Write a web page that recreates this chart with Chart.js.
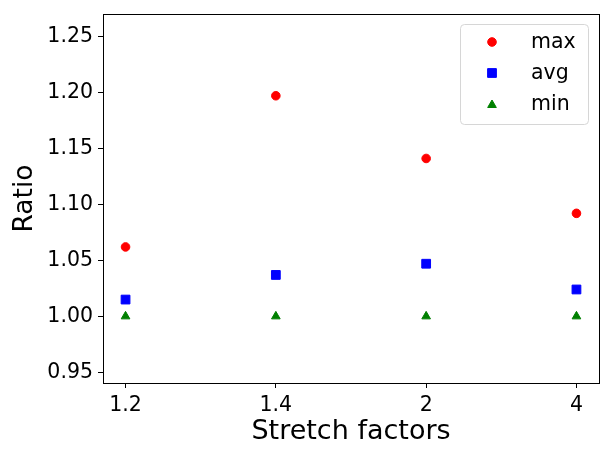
<!DOCTYPE html>
<html>
<head>
<script src="https://cdn.jsdelivr.net/npm/chart.js@4"></script>
<style>
  body { margin: 0; background: #fff; }
</style>
</head>
<body>
<div style="width:612px;height:456px">
  <canvas id="myChart" width="612" height="456"></canvas>
</div>
<script>
    // data
    var categories = ["1.2", "1.4", "2", "4"];
    var maxValues = [1.062, 1.197, 1.141, 1.092];
    var avgValues = [1.015, 1.037, 1.047, 1.024];
    var minValues = [1.0, 1.0, 1.0, 1.0];
    var yTicks = [0.95, 1.00, 1.05, 1.10, 1.15, 1.20, 1.25];

    function toPoints(values) {
        return values.map(function (v, i) { return {x: i, y: v}; });
    }

    var font = "'DejaVu Sans', sans-serif";

    // box around the plot area
    var frame = {
        id: 'frame',
        afterDatasetsDraw: function (chart) {
            var a = chart.chartArea, ctx = chart.ctx;
            ctx.save();
            ctx.strokeStyle = '#000';
            ctx.lineWidth = 1;
            ctx.strokeRect(Math.round(a.left) + 0.5, Math.round(a.top) + 0.5,
                Math.round(a.right - a.left), Math.round(a.bottom - a.top));
            ctx.restore();
        }
    };

    // matplotlib style legend inside the upper right corner
    var innerLegend = {
        id: 'innerLegend',
        afterDraw: function (chart) {
            var ctx = chart.ctx;
            var x0 = 460, y0 = 24, w = 128, h = 100;
            ctx.save();
            ctx.fillStyle = 'rgba(255,255,255,0.8)';
            ctx.strokeStyle = '#d6d6d6';
            ctx.lineWidth = 1;
            ctx.beginPath();
            ctx.roundRect(x0 + 0.5, y0 + 0.5, w, h, 4);
            ctx.fill();
            ctx.stroke();
            ctx.font = '20.5px ' + font;
            ctx.textBaseline = 'middle';
            chart.data.datasets.forEach(function (ds, i) {
                var cy = 42 + i * 31;
                ctx.fillStyle = ds.backgroundColor;
                ctx.strokeStyle = ds.borderColor;
                ctx.lineWidth = 1;
                Chart.helpers.drawPoint(ctx,
                    {pointStyle: ds.pointStyle, rotation: 0, radius: ds.pointRadius, borderWidth: 1},
                    492, ds.pointStyle === 'triangle' ? cy + 1 : cy);
                ctx.fillStyle = '#000';
                ctx.fillText(ds.label, 531, cy + 1);
            });
            ctx.restore();
        }
    };

    var ctx = document.getElementById("myChart");
    var myChart = new Chart(ctx, {
        type: 'scatter',
        data: {
            datasets: [
                {label: 'max', data: toPoints(maxValues), pointStyle: 'circle', pointRadius: 4.3,
                    backgroundColor: '#ff0000', borderColor: '#ff0000', borderWidth: 1},
                {label: 'avg', data: toPoints(avgValues), pointStyle: 'rect', pointRadius: 6.2,
                    backgroundColor: '#0000ff', borderColor: '#0000ff', borderWidth: 1},
                {label: 'min', data: toPoints(minValues), pointStyle: 'triangle', pointRadius: 5,
                    backgroundColor: '#008000', borderColor: '#008000', borderWidth: 1}
            ]
        },
        options: {
            responsive: false,
            animation: false,
            layout: {padding: {left: 5, right: 13, top: 14, bottom: 4}},
            plugins: {
                legend: {display: false},
                tooltip: {enabled: false}
            },
            scales: {
                x: {
                    type: 'linear',
                    min: -0.15,
                    max: 3.15,
                    afterBuildTicks: function (axis) {
                        axis.ticks = categories.map(function (c, i) { return {value: i}; });
                    },
                    afterFit: function (axis) {
                        axis.height = 69;
                        axis.paddingLeft = 0;
                        axis.paddingRight = 0;
                    },
                    ticks: {
                        callback: function (v) { return categories[v]; },
                        color: '#000',
                        font: {family: font, size: 20.5},
                        padding: 5,
                        maxRotation: 0
                    },
                    grid: {drawOnChartArea: false, tickLength: 5, tickColor: '#000'},
                    border: {color: '#000'},
                    title: {display: true, text: 'Stretch factors', color: '#000',
                        font: {family: font, size: 27}, padding: {top: 0}}
                },
                y: {
                    min: 0.9405,
                    max: 1.27,
                    afterBuildTicks: function (axis) {
                        axis.ticks = yTicks.map(function (v) { return {value: v}; });
                    },
                    afterFit: function (axis) {
                        axis.width = 98;
                        axis.paddingTop = 0;
                        axis.paddingBottom = 0;
                    },
                    ticks: {
                        callback: function (v) { return v.toFixed(2); },
                        color: '#000',
                        font: {family: font, size: 20.5},
                        padding: 5
                    },
                    grid: {drawOnChartArea: false, tickLength: 5, tickColor: '#000'},
                    border: {color: '#000'},
                    title: {display: true, text: 'Ratio', color: '#000',
                        font: {family: font, size: 26.5}, padding: {bottom: 0}}
                }
            }
        },
        plugins: [frame, innerLegend]
    });
</script>
</body>
</html>
